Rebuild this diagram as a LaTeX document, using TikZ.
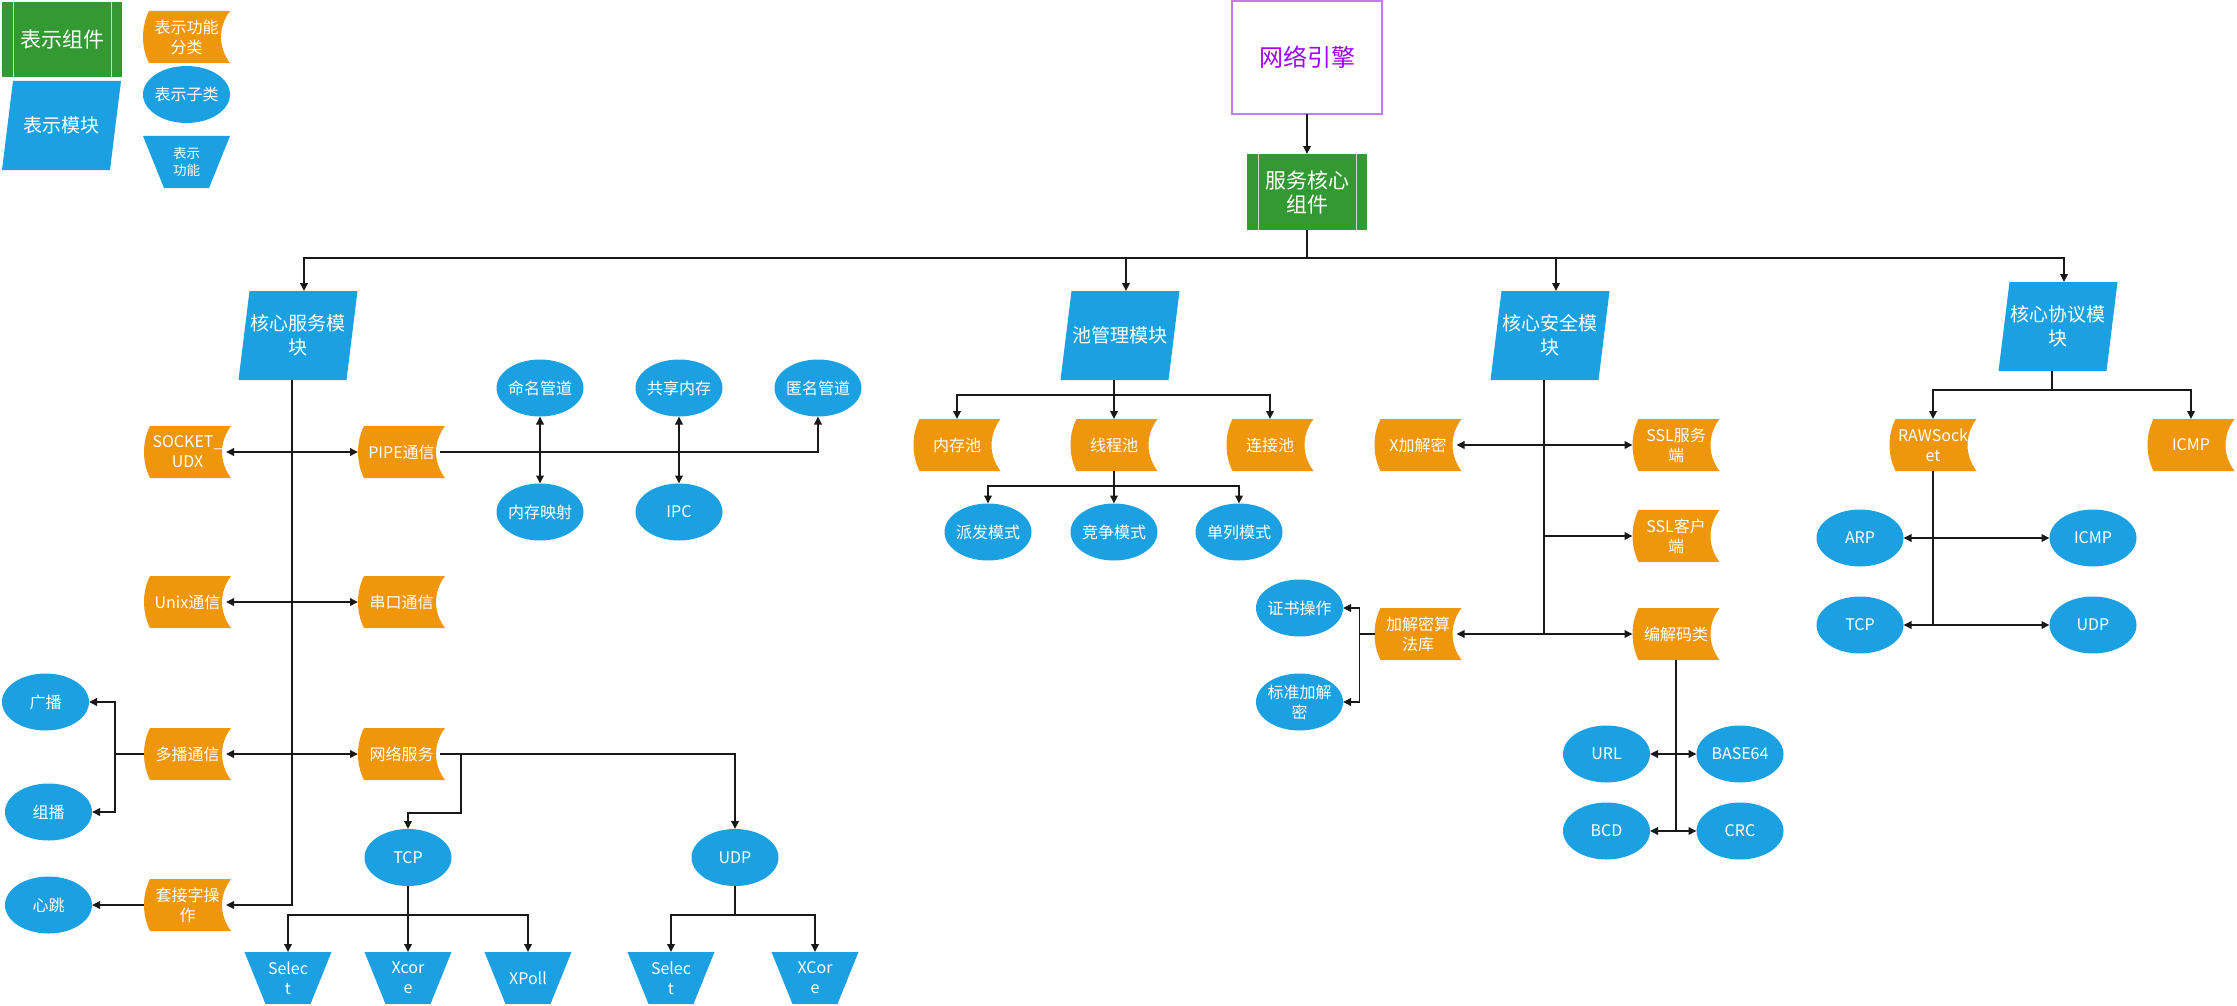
\documentclass[tikz,border=0pt]{standalone}
\usepackage{fontspec}
\setmainfont{Noto Sans CJK SC}
\usetikzlibrary{arrows.meta,shapes.geometric}
\definecolor{blu}{HTML}{1BA1E2}
\definecolor{orng}{HTML}{F0960A}
\definecolor{grn}{HTML}{339933}
\definecolor{pline}{HTML}{C27BFF}
\definecolor{ptext}{HTML}{A200FF}

\newcommand\OrBox[5][]{%
  \fill[orng] ({#3-37.5},{#4-26}) -- ({#3+43.5},{#4-26})
    .. controls ({#3+31.5},{#4-10}) and ({#3+31.5},{#4+10}) .. ({#3+43.5},{#4+26})
    -- ({#3-37.5},{#4+26})
    .. controls ({#3-45.5},{#4+10}) and ({#3-45.5},{#4-10}) .. ({#3-37.5},{#4-26}) -- cycle;
  \node[otext,#1] (#2) at (#3,#4) {#5};
  \coordinate (#2-r) at ({#3+38.5},#4);
}
\newcommand\PaBox[5][]{%
  \fill[blu] ({#3-48.5},{#4-44.5}) -- ({#3+59.5},{#4-44.5}) -- ({#3+48.5},{#4+44.5}) -- ({#3-59.5},{#4+44.5}) -- cycle;
  \node[mtext,#1] (#2) at (#3,#4) {#5};
}
\newcommand\TrBox[5][]{%
  \fill[blu] ({#3-43.5},{#4-26}) -- ({#3+43.5},{#4-26}) -- ({#3+22.5},{#4+26}) -- ({#3-22.5},{#4+26}) -- cycle;
  \node[ttext,#1] (#2) at (#3,#4) {#5};
}
\newcommand\GrBox[5][]{%
  \node[gbox,#1] (#2) at (#3,#4) {#5};
  \draw[gl] ([xshift=11pt]#2.north west) -- ([xshift=11pt]#2.south west);
  \draw[gl] ([xshift=-11pt]#2.north east) -- ([xshift=-11pt]#2.south east);
}

\begin{document}
\begin{tikzpicture}[x=1pt,y=-1pt,
  conn/.style={draw=black!90, line width=1.8pt},
  arr/.style={conn, -{Triangle[length=8pt,width=7.5pt]}},
  biarr/.style={conn, {Triangle[length=8pt,width=7.5pt]}-{Triangle[length=8pt,width=7.5pt]}},
  otext/.style={rectangle, minimum width=87pt, minimum height=52pt, inner sep=0pt, outer sep=0pt, text=white, align=center, font=\fontsize{16}{20}\selectfont},
  mtext/.style={rectangle, minimum width=119pt, minimum height=89pt, inner sep=0pt, outer sep=0pt, text=white, align=center, font=\fontsize{19}{24}\selectfont},
  ttext/.style={rectangle, minimum width=87pt, minimum height=52pt, inner sep=0pt, outer sep=0pt, text=white, align=center, font=\fontsize{16}{20}\selectfont},
  ell/.style={ellipse, fill=blu, minimum width=87pt, minimum height=57pt, inner xsep=-12pt, inner ysep=0pt, outer sep=0pt, text=white, align=center, font=\fontsize{16}{20}\selectfont},
  gbox/.style={rectangle, fill=grn, minimum width=120pt, minimum height=76pt, inner sep=0pt, outer sep=0pt, text=white, align=center, font=\fontsize{21}{24}\selectfont},
  gl/.style={draw=white!70!grn, line width=1pt},
  ttl/.style={rectangle, draw=pline, line width=1.5pt, fill=white, minimum width=150pt, minimum height=113pt, outer sep=0pt, text=ptext, font=\fontsize{24}{28}\selectfont}
]
\fill[white] (0,0) rectangle (2237,1006);
\useasboundingbox (0,0) rectangle (2237,1006);

% legend
\GrBox[minimum height=75pt]{lg1}{62}{39.5}{表示组件}
\PaBox{lg2}{61.5}{125.5}{表示模块}
\OrBox{lg3}{186.5}{37}{表示功能\\分类}
\node[ell] (lg4) at (186.5,94.5) {表示子类};
\TrBox[font=\fontsize{13.5}{17}\selectfont]{lg5}{186.5}{162}{表示\\功能}

% top
\node[ttl] (eng) at (1307,57.5) {网络引擎};
\GrBox{core}{1307}{192}{服务核心\\组件}
\draw[arr] (eng.south) -- (core.north);

% modules
\PaBox{m1}{298}{335.5}{核心服务模\\块}
\PaBox{m2}{1120}{335.5}{池管理模块}
\PaBox{m3}{1550}{335.5}{核心安全模\\块}
\PaBox{m4}{2058}{326.5}{核心协议模\\块}
\draw[arr] (core.south) -- ++(0,28) -| ([xshift=6pt]m1.north);
\draw[arr] (core.south) -- ++(0,28) -| ([xshift=6pt]m2.north);
\draw[arr] (core.south) -- ++(0,28) -| ([xshift=6pt]m3.north);
\draw[arr] (core.south) -- ++(0,28) -| ([xshift=6pt]m4.north);

% ---- core service
\OrBox{sock}{187.5}{452}{SOCKET\_\\UDX}
\OrBox{pipe}{401.5}{452}{PIPE通信}
\OrBox{unix}{187.5}{602}{Unix通信}
\OrBox{com}{401.5}{602}{串口通信}
\OrBox{multi}{187.5}{754}{多播通信}
\OrBox{net}{401.5}{754}{网络服务}
\OrBox{sockop}{187.5}{905}{套接字操\\作}
\node[ell] (bcast) at (45.5,702) {广播};
\node[ell] (grp) at (48.5,812) {组播};
\node[ell] (heart) at (48.5,905) {心跳};
\node[ell] (named) at (540,388) {命名管道};
\node[ell] (mmap) at (540,512) {内存映射};
\node[ell] (shm) at (679,388) {共享内存};
\node[ell] (ipc) at (679,512) {IPC};
\node[ell] (anon) at (818,388) {匿名管道};
\node[ell] (tcp) at (408,857.5) {TCP};
\node[ell] (udp) at (735,857.5) {UDP};
\TrBox{sel1}{288}{978}{Selec\\t}
\TrBox{xc1}{408}{978}{Xcor\\e}
\TrBox{xpoll}{528}{978}{XPoll}
\TrBox{sel2}{671}{978}{Selec\\t}
\TrBox{xc2}{815}{978}{XCor\\e}

\draw[arr] ([xshift=-6pt]m1.south) |- (sockop-r);
\draw[biarr] (sock-r) -- (pipe.west);
\draw[biarr] (unix-r) -- (com.west);
\draw[biarr] (multi-r) -- (net.west);
\draw[arr] (sockop.west) -- (heart.east);
\draw[arr] (multi.west) -- ++(-29,0) |- (bcast.east);
\draw[arr] (multi.west) -- ++(-29,0) |- (grp.east);
\draw[arr] (pipe-r) -| (anon.south);
\draw[biarr] (named.south) -- (mmap.north);
\draw[biarr] (shm.south) -- (ipc.north);
\draw[arr] (net-r) -- ++(21,0) |- ([yshift=16pt]tcp.north) -- (tcp.north);
\draw[arr] (net-r) -| (udp.north);
\draw[arr] (tcp.south) -- ++(0,29) -| (sel1.north);
\draw[arr] (tcp.south) -- (xc1.north);
\draw[arr] (tcp.south) -- ++(0,29) -| (xpoll.north);
\draw[arr] (udp.south) -- ++(0,29) -| (sel2.north);
\draw[arr] (udp.south) -- ++(0,29) -| (xc2.north);

% ---- pool
\OrBox{mpool}{957}{445}{内存池}
\OrBox{tpool}{1114}{445}{线程池}
\OrBox{cpool}{1270}{445}{连接池}
\node[ell] (disp) at (988,532) {派发模式};
\node[ell] (comp) at (1114,532) {竞争模式};
\node[ell] (single) at (1239,532) {单列模式};
\draw[arr] ([xshift=-6pt]m2.south) -- ++(0,15) -| (mpool.north);
\draw[arr] ([xshift=-6pt]m2.south) -- (tpool.north);
\draw[arr] ([xshift=-6pt]m2.south) -- ++(0,15) -| (cpool.north);
\draw[arr] (tpool.south) -- ++(0,15) -| (disp.north);
\draw[arr] (tpool.south) -- (comp.north);
\draw[arr] (tpool.south) -- ++(0,15) -| (single.north);

% ---- security
\OrBox{xenc}{1418}{445}{X加解密}
\OrBox{sslS}{1676}{445}{SSL服务\\端}
\OrBox{sslC}{1676}{536}{SSL客户\\端}
\OrBox{algo}{1418}{634}{加解密算\\法库}
\OrBox{codec}{1676}{634}{编解码类}
\node[ell] (cert) at (1299.5,608) {证书操作};
\node[ell] (std) at (1299.5,702) {标准加解\\密};
\node[ell] (url) at (1606.5,754) {URL};
\node[ell] (b64) at (1740,754) {BASE64};
\node[ell] (bcd) at (1606.5,831) {BCD};
\node[ell] (crc) at (1740,831) {CRC};
\coordinate (j3) at (1544,634);
\draw[conn] ([xshift=-6pt]m3.south) -- (j3);
\draw[arr] ([xshift=-6pt]m3.south) |- (sslC.west);
\draw[biarr] (xenc-r) -- (sslS.west);
\draw[biarr] (algo-r) -- (codec.west);
\draw[arr] (algo.west) -- ++(-15,0) |- (cert.east);
\draw[arr] (algo.west) -- ++(-15,0) |- (std.east);
\draw[conn] (codec.south) -- ++(0,171);
\draw[biarr] (url.east) -- (b64.west);
\draw[biarr] (bcd.east) -- (crc.west);

% ---- protocol
\OrBox{raw}{1933}{445}{RAWSock\\et}
\OrBox{icmpo}{2191}{445}{ICMP}
\node[ell] (arp) at (1860,538) {ARP};
\node[ell] (icmp) at (2093,538) {ICMP};
\node[ell] (tcpb) at (1860,625) {TCP};
\node[ell] (udpb) at (2093,625) {UDP};
\draw[arr] ([xshift=-6pt]m4.south) -- ++(0,19) -| (raw.north);
\draw[arr] ([xshift=-6pt]m4.south) -- ++(0,19) -| (icmpo.north);
\draw[conn] (raw.south) -- ++(0,154);
\draw[biarr] (arp.east) -- (icmp.west);
\draw[biarr] (tcpb.east) -- (udpb.west);
\end{tikzpicture}
\end{document}
